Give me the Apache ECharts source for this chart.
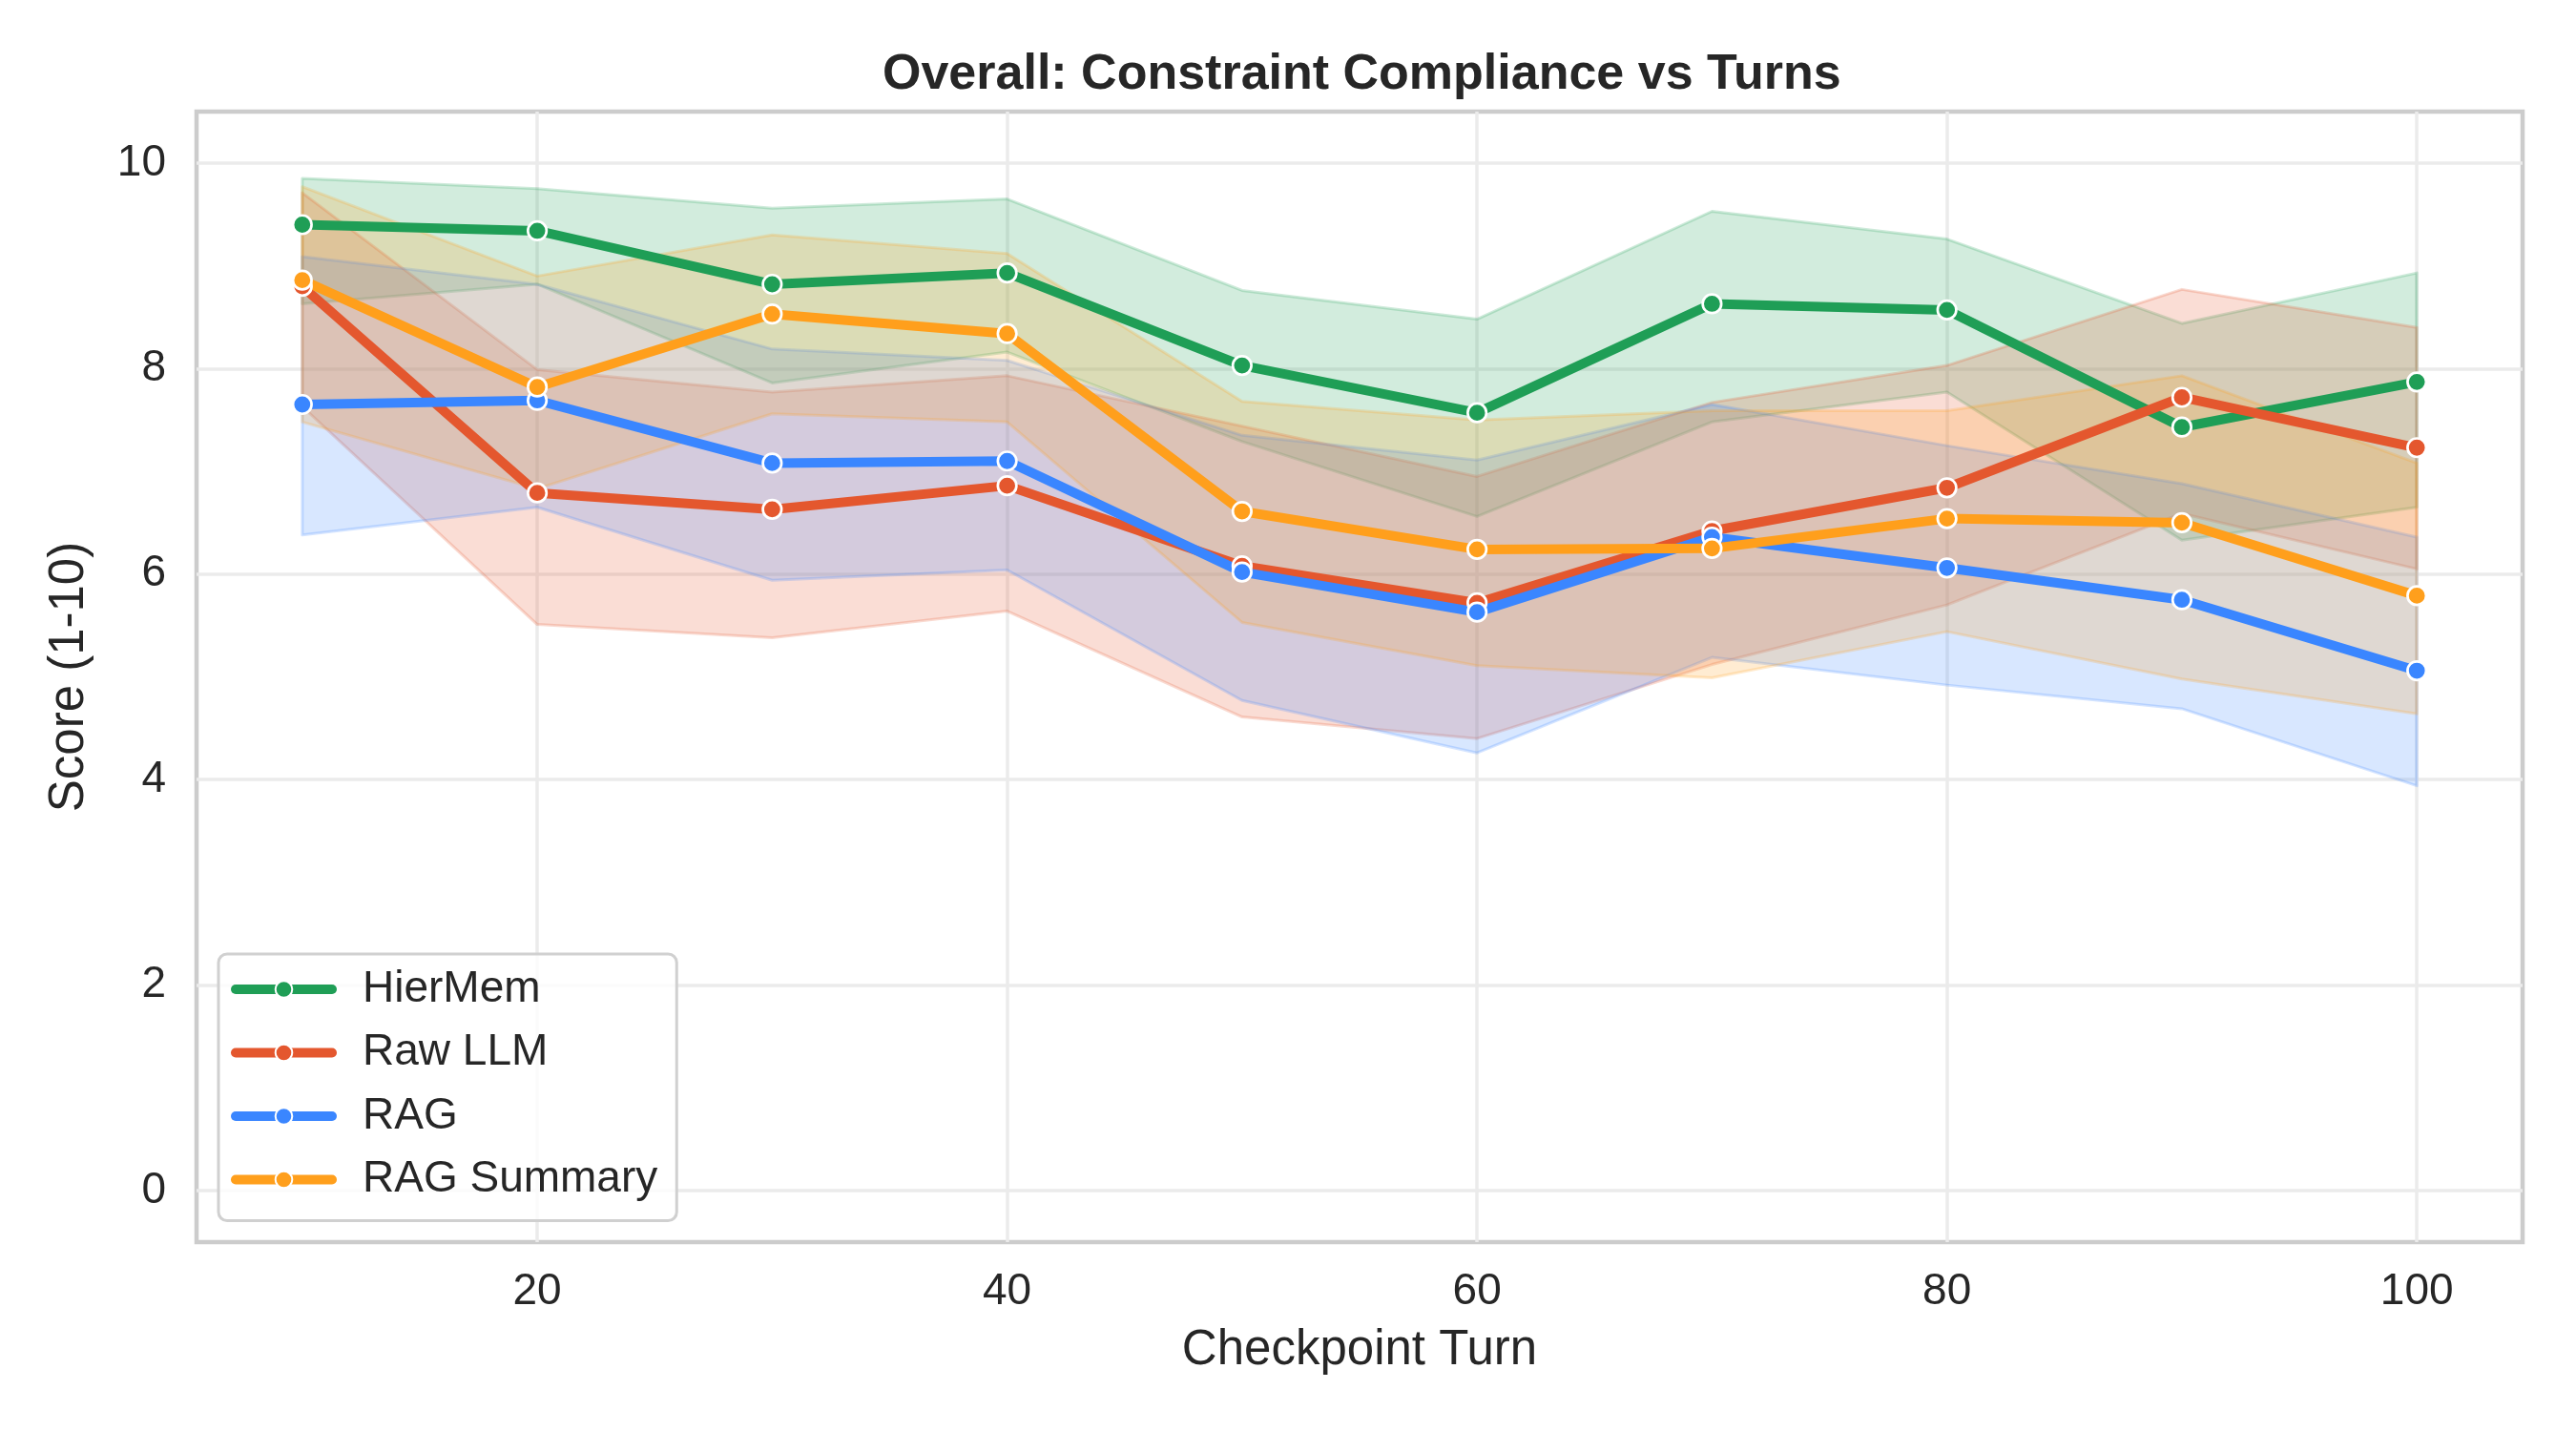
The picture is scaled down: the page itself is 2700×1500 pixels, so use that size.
<!DOCTYPE html>
<html>
<head>
<meta charset="utf-8">
<script src="https://cdn.jsdelivr.net/npm/echarts@6/dist/echarts.min.js"></script>
<style>
html,body{margin:0;padding:0;background:#fff;}
#chart{width:2700px;height:1500px;}
</style>
</head>
<body>
<div id="chart"></div>
<script>
// ---- data ----
const turns = [10, 20, 30, 40, 50, 60, 70, 80, 90, 100];
const seriesNames = ['HierMem', 'Raw LLM', 'RAG', 'RAG Summary'];

const hierMemMean = [9.40, 9.34, 8.82, 8.93, 8.03, 7.57, 8.63, 8.57, 7.43, 7.87];
const hierMemLow  = [8.63, 8.82, 7.86, 8.16, 7.29, 6.56, 7.48, 7.77, 6.33, 6.65];
const hierMemHigh = [9.85, 9.75, 9.56, 9.65, 8.76, 8.48, 9.53, 9.26, 8.44, 8.93];

const rawMean = [8.80, 6.79, 6.63, 6.86, 6.08, 5.72, 6.42, 6.84, 7.72, 7.23];
const rawLow  = [7.63, 5.51, 5.38, 5.64, 4.61, 4.40, 5.12, 5.70, 6.59, 6.05];
const rawHigh = [9.71, 7.99, 7.77, 7.93, 7.44, 6.95, 7.67, 8.03, 8.77, 8.40];

const ragMean = [7.65, 7.69, 7.08, 7.10, 6.02, 5.63, 6.36, 6.06, 5.75, 5.06];
const ragLow  = [6.38, 6.65, 5.94, 6.04, 4.77, 4.26, 5.19, 4.92, 4.69, 3.94];
const ragHigh = [9.09, 8.82, 8.19, 8.08, 7.35, 7.11, 7.65, 7.25, 6.88, 6.36];

const sumMean = [8.86, 7.82, 8.53, 8.34, 6.61, 6.24, 6.25, 6.54, 6.50, 5.79];
const sumLow  = [7.48, 6.83, 7.56, 7.48, 5.53, 5.11, 4.99, 5.44, 4.98, 4.64];
const sumHigh = [9.77, 8.90, 9.30, 9.12, 7.68, 7.50, 7.59, 7.59, 7.93, 7.08];

const xTicks = [20, 40, 60, 80, 100];
const yTicks = [0, 2, 4, 6, 8, 10];

// ---- styles ----
const colors = ['#1F9E56', '#E4572E', '#3A86FF', '#FF9F1C'];
const rgb = [[31, 158, 86], [228, 87, 46], [58, 134, 255], [255, 159, 28]];
const means = [hierMemMean, rawMean, ragMean, sumMean];
const lows = [hierMemLow, rawLow, ragLow, sumLow];
const highs = [hierMemHigh, rawHigh, ragHigh, sumHigh];
const FONT = '"Liberation Sans", Arial, Helvetica, sans-serif';
const TXT = '#262626';

const pair = (arr) => arr.map((v, i) => [turns[i], v]);
const rgba = (c, a) => 'rgba(' + c[0] + ',' + c[1] + ',' + c[2] + ',' + a + ')';

const series = [];
// confidence bands as polygons placed through the axes' scales
seriesNames.forEach((name, k) => {
  series.push({
    name: name + ' CI', type: 'custom', z: 1, silent: true, clip: true,
    data: turns.map((t, i) => [t, lows[k][i], highs[k][i]]),
    encode: { x: 0, y: [1, 2] },
    renderItem: function (params, api) {
      if (params.dataIndex !== 0) return;
      const pts = [];
      for (let i = 0; i < turns.length; i++) pts.push(api.coord([turns[i], highs[k][i]]));
      for (let i = turns.length - 1; i >= 0; i--) pts.push(api.coord([turns[i], lows[k][i]]));
      return {
        type: 'polygon',
        shape: { points: pts },
        style: { fill: rgba(rgb[k], 0.2), stroke: rgba(rgb[k], 0.22), lineWidth: 3, lineJoin: 'round' }
      };
    }
  });
});
// mean lines
seriesNames.forEach((name, k) => {
  series.push({
    name: name, type: 'line', z: 3,
    data: pair(means[k]),
    symbol: 'circle', symbolSize: 19.5,
    itemStyle: { color: colors[k], borderColor: '#ffffff', borderWidth: 2.7 },
    lineStyle: { color: colors[k], width: 10, join: 'round', cap: 'butt' }
  });
});

const chart = echarts.init(document.getElementById('chart'), null, { renderer: 'canvas' });
chart.setOption({
  animation: false,
  backgroundColor: '#ffffff',
  title: {
    text: 'Overall: Constraint Compliance vs Turns',
    left: 920, top: 48,
    textStyle: { fontFamily: FONT, fontSize: 52, fontWeight: 'bold', color: TXT }
  },
  grid: {
    left: 206, right: 56, top: 117, bottom: 198,
    show: true, borderColor: '#cccccc', borderWidth: 4.5, backgroundColor: 'transparent'
  },
  legend: {
    data: seriesNames,
    orient: 'vertical',
    left: 229, top: 1000,
    padding: [14, 20, 20, 13],
    itemGap: 20.5, itemWidth: 101, itemHeight: 22,
    backgroundColor: 'rgba(255,255,255,0.8)',
    borderColor: '#d0d0d0', borderWidth: 3, borderRadius: 9,
    lineStyle: { width: 10, cap: 'round' },
    textStyle: { fontFamily: FONT, fontSize: 46, lineHeight: 46, color: TXT, padding: [0, 0, 0, 27] }
  },
  xAxis: {
    type: 'value', min: 5.5, max: 104.5,
    name: 'Checkpoint Turn', nameLocation: 'middle', nameGap: 88,
    nameTextStyle: { fontFamily: FONT, fontSize: 51, color: TXT },
    axisLine: { show: false },
    axisTick: { show: false, customValues: xTicks },
    axisLabel: { customValues: xTicks, fontFamily: FONT, fontSize: 46, color: TXT, margin: 29 },
    splitLine: { show: true, lineStyle: { color: '#ebebeb', width: 3.5 } }
  },
  yAxis: {
    type: 'value', min: -0.5, max: 10.5,
    name: 'Score (1-10)', nameLocation: 'middle', nameGap: 108,
    nameTextStyle: { fontFamily: FONT, fontSize: 51, color: TXT },
    axisLine: { show: false },
    axisTick: { show: false, customValues: yTicks },
    axisLabel: { customValues: yTicks, fontFamily: FONT, fontSize: 46, color: TXT, margin: 32 },
    splitLine: { show: true, lineStyle: { color: '#ebebeb', width: 3.5 } }
  },
  series: series
});
</script>
</body>
</html>
